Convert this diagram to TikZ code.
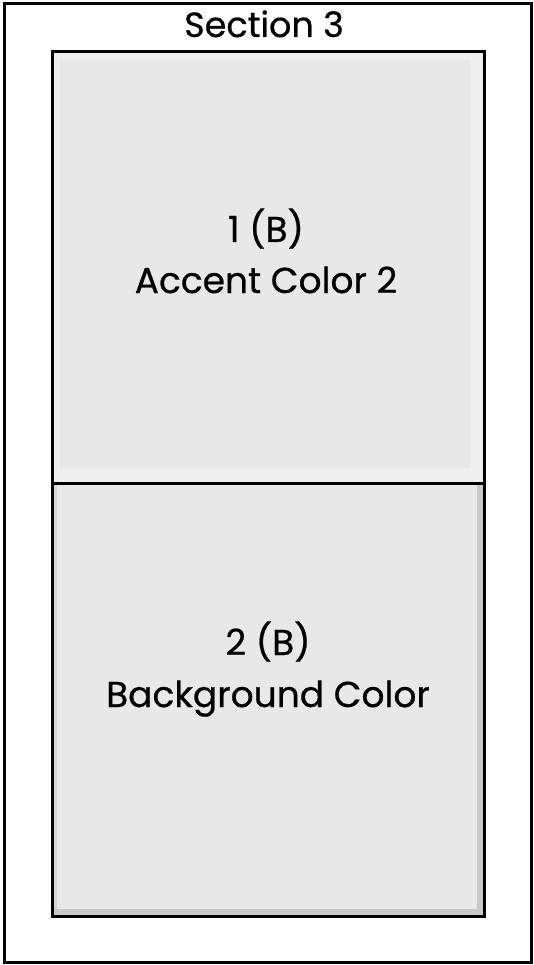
\documentclass[tikz,border=0pt]{standalone}
\usepackage{fontspec}
\setmainfont{Poppins}[FakeBold=0.6,AutoFakeBold=0.6]
\definecolor{topband}{HTML}{EFEFEF}
\definecolor{topin}{HTML}{E8E8E8}
\definecolor{botfill}{HTML}{E8E8E8}
\definecolor{botshade}{HTML}{C8C8C8}
\definecolor{botleft}{HTML}{D4D4D4}
\begin{document}
\begin{tikzpicture}[x=1pt,y=-1pt,
  frame/.style={draw=black,line width=3pt},
  lbl/.style={anchor=base,inner sep=0pt,font=\fontsize{36}{44}\selectfont\bfseries},
  ttl/.style={anchor=base,inner sep=0pt,font=\fontsize{35}{42}\selectfont\bfseries}]
\useasboundingbox (0,0) rectangle (533,965);
\fill[white] (0,0) rectangle (533,965);
\draw[frame] (4,4) rectangle (531,962);
% top box
\fill[topband] (52,52) rectangle (484,483);
\fill[topin] (60,60) rectangle (471,468);
% bottom box
\fill[botfill] (52,483) rectangle (484,916);
\fill[botshade] (477,483) rectangle (484,916);
\fill[botshade] (52,909) rectangle (484,916);
\fill[botleft] (52,483) rectangle (57,909);
\draw[frame] (52,52) rectangle (484,916);
\draw[frame] (52,483) -- (484,483);
% texts
\node[ttl] (title) at (264,37) {Section 3};
\node[lbl] (a1) at (266,242) {1 (B)};
\node[lbl] (a2) at (266,293) {Accent Color 2};
\node[lbl] (b1) at (268,655) {2 (B)};
\node[lbl] (b2) at (268,707) {Background Color};
\end{tikzpicture}
\end{document}
